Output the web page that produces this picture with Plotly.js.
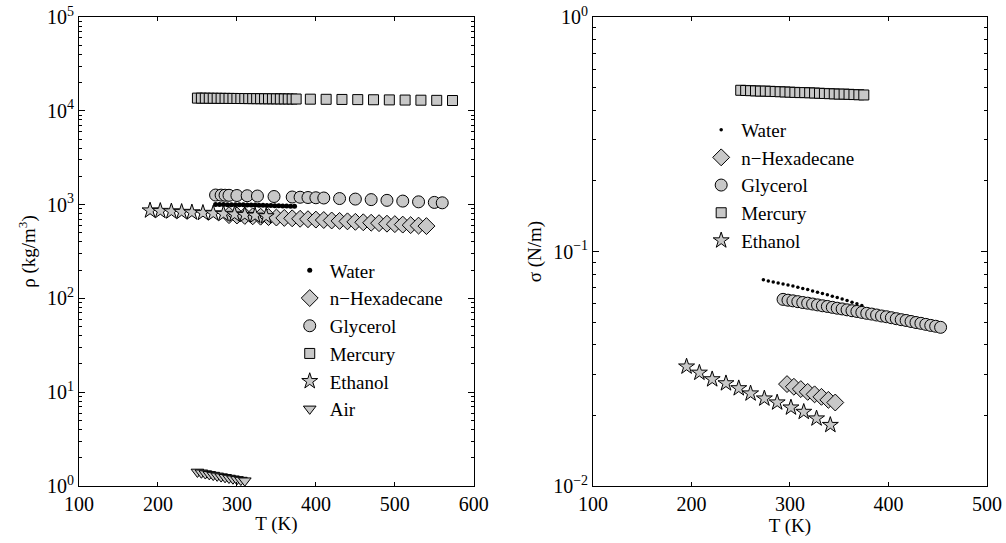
<!DOCTYPE html>
<html>
<head>
<meta charset="utf-8">
<script src="https://cdn.plot.ly/plotly-3.0.1.min.js"></script>
<style>html,body{margin:0;padding:0;background:#fff;}#chart{width:1006px;height:543px;}</style>
</head>
<body>
<div id="chart"></div>
<script>
// ---------- Density panel (left) ----------
const waterT_rho = [273,278,283,288,293,298,303,308,313,318,323,328,333,338,343,348,353,358,363,368,373];
const waterRho   = [1000,1000,1000,999,998,997,996,994,992,990,988,986,983,980,978,975,972,968,965,962,958];

const hexT_rho = [290,300,310,320,330,340,350,360,370,380,390,400,410,420,430,440,450,460,470,480,490,500,510,520,530,540];
const hexRho   = [772,765,757,750,743,736,728,721,714,706,699,692,685,677,670,663,655,648,641,634,626,619,612,604,597,590];

const glyT_rho = [273,280,285,290,300,313,326,347,370,380,390,400,410,430,450,470,490,510,530,550,560];
const glyRho   = [1265,1262,1259,1256,1250,1243,1235,1220,1205,1198,1190,1183,1176,1160,1145,1130,1110,1090,1070,1055,1045];

const hgT_rho = [250,255,260,265,270,275,280,285,290,295,300,305,310,315,320,325,330,335,340,345,350,355,360,365,370,375,
                 393,413,433,453,473,493,513,533,553,573];
const hgRho   = [13650,13640,13625,13612,13600,13590,13578,13565,13553,13541,13529,13517,13505,13493,13481,13469,13457,13445,13433,13421,13409,13397,13385,13373,13361,13350,
                 13308,13260,13212,13164,13116,13068,13020,12972,12924,12877];

const ethT_rho = [190,203,217,230,243,257,270,283,297,310,323,337];
const ethRho   = [865,855,845,835,825,815,805,795,785,775,762,750];

const airT = [250,255,260,265,270,275,280,285,290,295,300,305,310];
const airRho = [1.412,1.384,1.357,1.331,1.307,1.283,1.260,1.238,1.217,1.196,1.176,1.157,1.139];

// ---------- Surface tension panel (right) ----------
const waterT_sig = [273,278,283,288,293,298,303,308,313,318,323,328,333,338,343,348,353,358,363,368,373];
const waterSig   = [0.0757,0.0749,0.0742,0.0734,0.0727,0.0720,0.0712,0.0704,0.0696,0.0688,0.0679,0.0671,0.0662,0.0654,0.0645,0.0636,0.0627,0.0618,0.0608,0.0599,0.0589];

const hexT_sig = [297,304,311,318,325,332,339,346];
const hexSig   = [0.0272,0.0265,0.0259,0.0252,0.0246,0.0240,0.0233,0.0227];

const glyT_sig = [293,298,303,308,313,318,323,328,333,338,343,348,353,358,363,368,373,378,383,388,393,398,403,408,413,418,423,428,433,438,443,448,453];
const glySig   = [0.0625,0.0620,0.0616,0.0611,0.0606,0.0602,0.0597,0.0592,0.0587,0.0583,0.0578,0.0573,0.0569,0.0564,0.0559,0.0555,0.0550,0.0545,0.0541,0.0536,0.0531,0.0527,0.0522,0.0517,0.0512,0.0508,0.0503,0.0498,0.0494,0.0489,0.0484,0.0480,0.0475];

const hgT_sig = [250,255,260,265,270,275,280,285,290,295,300,305,310,315,320,325,330,335,340,345,350,355,360,365,370,375];
const hgSig   = [0.487,0.486,0.485,0.484,0.483,0.483,0.482,0.481,0.480,0.479,0.478,0.477,0.476,0.476,0.475,0.474,0.473,0.472,0.471,0.470,0.469,0.469,0.468,0.467,0.466,0.465];

const ethT_sig = [195,208,221,235,248,260,274,287,301,314,327,341];
const ethSig   = [0.0323,0.0304,0.0285,0.0274,0.0261,0.0248,0.0236,0.0227,0.0216,0.0207,0.0194,0.0182];

const names = ['Water','n\u2212Hexadecane','Glycerol','Mercury','Ethanol','Air'];

// tick labels
const rhoTickVals = [1,10,100,1000,10000,100000];
const rhoTickText = ['10<sup>0</sup>','10<sup>1</sup>','10<sup>2</sup>','10<sup>3</sup>','10<sup>4</sup>','10<sup>5</sup>'];
const rhoMinorVals = [2,3,4,5,6,7,8,9,20,30,40,50,60,70,80,90,200,300,400,500,600,700,800,900,
                      2000,3000,4000,5000,6000,7000,8000,9000,20000,30000,40000,50000,60000,70000,80000,90000];
const sigTickVals = [0.01,0.1,1];
const sigTickText = ['10<sup>\u22122</sup>','10<sup>\u22121</sup>','10<sup>0</sup>'];
const sigMinorVals = [0.02,0.03,0.04,0.05,0.06,0.07,0.08,0.09,0.2,0.3,0.4,0.5,0.6,0.7,0.8,0.9];

const FILL = '#c8c8c8';
const FONT = 'Liberation Serif';

function mk(x, y, name, symbol, size, xa, ya, leg, isDot) {
  return {
    x: x, y: y, name: name, type: 'scatter', mode: 'markers',
    xaxis: xa, yaxis: ya, legend: leg, legendgroup: leg + name,
    marker: isDot ? {symbol: 'circle', size: size, color: '#000', line: {width: 0}}
                  : {symbol: symbol, size: size, color: FILL, line: {color: '#000', width: 1}}
  };
}

const traces = [
  mk(waterT_rho, waterRho, names[0], 'circle', 5, 'x', 'y', 'legend', true),
  mk(hexT_rho, hexRho, names[1], 'diamond', 13, 'x', 'y', 'legend'),
  mk(glyT_rho, glyRho, names[2], 'circle', 12, 'x', 'y', 'legend'),
  mk(hgT_rho, hgRho, names[3], 'square', 10, 'x', 'y', 'legend'),
  mk(ethT_rho, ethRho, names[4], 'star', 12, 'x', 'y', 'legend'),
  mk(airT, airRho, names[5], 'triangle-down', 11, 'x', 'y', 'legend'),
  mk(waterT_sig, waterSig, names[0], 'circle', 3.5, 'x2', 'y2', 'legend2', true),
  mk(hexT_sig, hexSig, names[1], 'diamond', 13, 'x2', 'y2', 'legend2'),
  mk(glyT_sig, glySig, names[2], 'circle', 12, 'x2', 'y2', 'legend2'),
  mk(hgT_sig, hgSig, names[3], 'square', 10, 'x2', 'y2', 'legend2'),
  mk(ethT_sig, ethSig, names[4], 'star', 12, 'x2', 'y2', 'legend2')
];

function xax(dom, hi, anchor) {
  return {
    domain: dom, range: [100, hi], dtick: 100, anchor: anchor,
    showgrid: false, zeroline: false, showline: true, linecolor: '#000', linewidth: 1, mirror: 'ticks',
    ticks: 'inside', ticklen: 4, tickcolor: '#000',
    tickfont: {family: FONT, size: 20, color: '#000'},
    title: {text: 'T (K)', font: {family: FONT, size: 19, color: '#000'}, standoff: 2}
  };
}
function yax(range, vals, text, minorVals, title, anchor) {
  return {
    type: 'log', range: range, tickmode: 'array', tickvals: vals, ticktext: text, anchor: anchor,
    showgrid: false, zeroline: false, showline: true, linecolor: '#000', linewidth: 1, mirror: 'ticks',
    ticks: 'inside', ticklen: 6, tickcolor: '#000',
    minor: {tickmode: 'array', tickvals: minorVals, ticks: 'inside', ticklen: 3, tickcolor: '#000', showgrid: false},
    tickfont: {family: FONT, size: 20, color: '#000'},
    title: {text: title, font: {family: FONT, size: 19, color: '#000'}, standoff: 6}
  };
}

const layout = {
  width: 1006, height: 543,
  margin: {l: 0, r: 0, t: 17, b: 57},
  paper_bgcolor: '#fff', plot_bgcolor: '#fff',
  font: {family: FONT, size: 20, color: '#000'},
  showlegend: true,
  xaxis: xax([0.0785, 0.471], 600, 'y'),
  yaxis: yax([0, 5], rhoTickVals, rhoTickText, rhoMinorVals, '\u03c1 (kg/m<sup>3</sup>)', 'x'),
  xaxis2: xax([0.5895, 0.981], 500, 'y2'),
  yaxis2: yax([-2, 0], sigTickVals, sigTickText, sigMinorVals, '\u03c3 (N/m)', 'x2'),
  legend: {x: 0.288, y: 0.5, xanchor: 'left', yanchor: 'top', bgcolor: 'rgba(0,0,0,0)',
           font: {family: FONT, size: 19, color: '#000'}, tracegroupgap: 0},
  legend2: {x: 0.697, y: 0.8, xanchor: 'left', yanchor: 'top', bgcolor: 'rgba(0,0,0,0)',
            font: {family: FONT, size: 19, color: '#000'}, tracegroupgap: 0}
};

Plotly.newPlot('chart', traces, layout, {displayModeBar: false, staticPlot: true});
</script>
</body>
</html>
